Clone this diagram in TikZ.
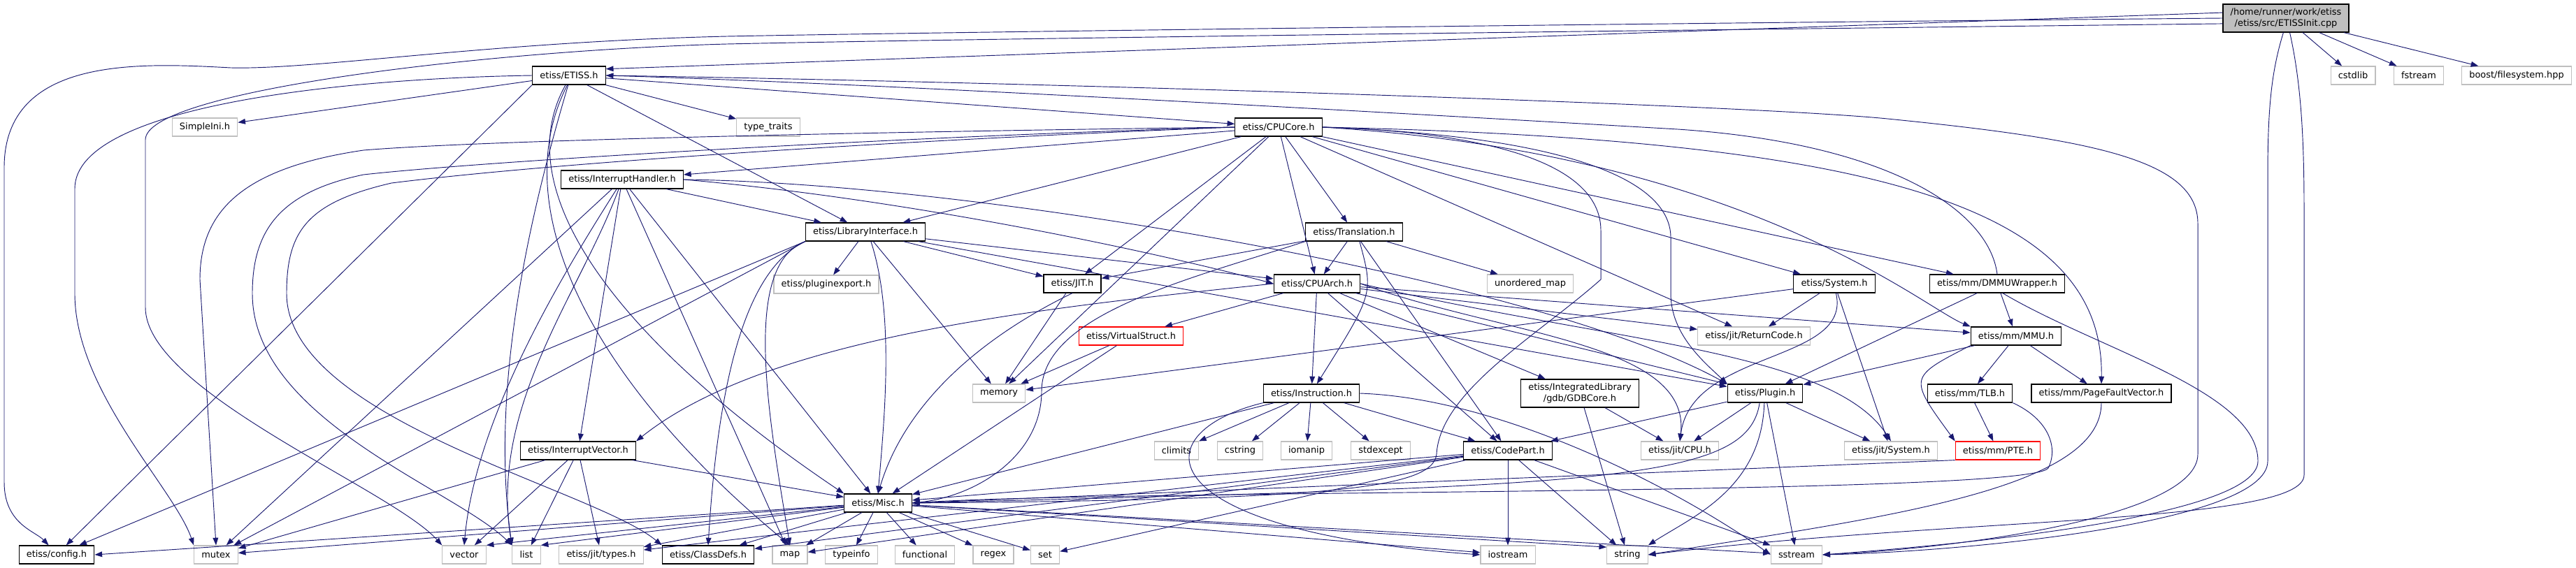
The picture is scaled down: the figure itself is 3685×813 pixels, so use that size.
\documentclass[tikz,border=0pt]{standalone}
\usepackage{fontspec}
\setmainfont{DejaVu Sans}
\usetikzlibrary{arrows.meta}

\definecolor{edgeblue}{HTML}{191970}
\definecolor{extgrey}{HTML}{BFBFBF}
\definecolor{rootgrey}{HTML}{BFBFBF}

\tikzset{
  filebox/.style={rectangle, font=\fontsize{9.7}{11.6}\selectfont, inner xsep=8pt, inner ysep=0pt,
    minimum height=19.5pt, line width=0.9pt},
  doc/.style={filebox, draw=black},
  ext/.style={filebox, draw=extgrey},
  trunc/.style={filebox, draw=red},
  twoline/.style={align=center, minimum height=30pt},
  dep/.style={->, draw=edgeblue, line width=0.7pt}
}

\begin{document}
\begin{tikzpicture}[x=0.75pt, y=-0.75pt, >={Triangle[length=8pt,width=5.8pt]},
  every edge/.style={dep}]
  \useasboundingbox (0,0) rectangle (3685,813);

  % files
  \node[doc, twoline, fill=rootgrey] (root) at (3270,26) {/home/runner/work/etiss\\/etiss/src/ETISSInit.cpp};
  \node[doc] (etiss)       at (814,108)  {etiss/ETISS.h};
  \node[ext] (cstdlib)     at (3366,108) {cstdlib};
  \node[ext] (fstream)     at (3460,108) {fstream};
  \node[ext] (boostfs)     at (3600,108) {boost/filesystem.hpp};
  \node[ext] (simpleini)   at (293,182)  {SimpleIni.h};
  \node[ext] (typetraits)  at (1099,182) {type\_traits};
  \node[doc] (cpucore)     at (1829,182) {etiss/CPUCore.h};
  \node[doc] (inthandler)  at (890,257)  {etiss/InterruptHandler.h};
  \node[doc] (libif)       at (1238,332) {etiss/LibraryInterface.h};
  \node[doc] (translation) at (1937,332) {etiss/Translation.h};
  \node[ext] (plugexp)     at (1182,407) {etiss/pluginexport.h};
  \node[doc] (jith)        at (1534,406) {etiss/JIT.h};
  \node[doc] (cpuarch)     at (1884,406) {etiss/CPUArch.h};
  \node[ext] (umap)        at (2189,406) {unordered\_map};
  \node[doc] (sysh)        at (2624,406) {etiss/System.h};
  \node[doc] (dmmu)        at (2857,406) {etiss/mm/DMMUWrapper.h};
  \node[trunc] (vstruct)   at (1618,481) {etiss/VirtualStruct.h};
  \node[ext] (retcode)     at (2509,481) {etiss/jit/ReturnCode.h};
  \node[doc] (mmu)         at (2884,481) {etiss/mm/MMU.h};
  \node[ext] (memory)      at (1429,563) {memory};
  \node[doc] (instr)       at (1876,563) {etiss/Instruction.h};
  \node[doc, twoline] (gdbcore) at (2260,563) {etiss/IntegratedLibrary\\/gdb/GDBCore.h};
  \node[doc] (plugin)      at (2525,563) {etiss/Plugin.h};
  \node[doc] (tlb)         at (2818,563) {etiss/mm/TLB.h};
  \node[doc] (pfv)         at (3006,563) {etiss/mm/PageFaultVector.h};
  \node[doc] (intvec)      at (827,645)  {etiss/InterruptVector.h};
  \node[ext] (climits)     at (1683,645) {climits};
  \node[ext] (cstring)     at (1774,645) {cstring};
  \node[ext] (iomanip)     at (1869,645) {iomanip};
  \node[ext] (stdexcept)   at (1975,645) {stdexcept};
  \node[doc] (codepart)    at (2157,645) {etiss/CodePart.h};
  \node[ext] (jitcpu)      at (2403,645) {etiss/jit/CPU.h};
  \node[ext] (jitsys)      at (2705,645) {etiss/jit/System.h};
  \node[trunc] (pte)       at (2858,645) {etiss/mm/PTE.h};
  \node[doc] (misc)        at (1256,720) {etiss/Misc.h};
  \node[doc] (config)      at (81,794)   {etiss/config.h};
  \node[ext] (mutex)       at (309,794)  {mutex};
  \node[ext] (vector)      at (664,794)  {vector};
  \node[ext] (list)        at (753,794)  {list};
  \node[ext] (types)       at (860,794)  {etiss/jit/types.h};
  \node[doc] (classdefs)   at (1013,794) {etiss/ClassDefs.h};
  \node[ext] (map)         at (1130,794) {map};
  \node[ext] (typeinfo)    at (1218,794) {typeinfo};
  \node[ext] (functional)  at (1323,794) {functional};
  \node[ext] (regex)       at (1421,794) {regex};
  \node[ext] (set)         at (1495,794) {set};
  \node[ext] (iostream)    at (2157,794) {iostream};
  \node[ext] (string)      at (2328,794) {string};
  \node[ext] (sstream)     at (2570,794) {sstream};

  % direct includes
  \path
    (root.175) edge (etiss.10)
    (root) edge (cstdlib)
    (root) edge (fstream)
    (root) edge (boostfs)
    (etiss) edge (simpleini)
    (etiss) edge (typetraits)
    (etiss) edge (cpucore)
    (etiss) edge (libif)
    (etiss.south west) edge (config)
    (cpucore) edge (inthandler)
    (cpucore) edge (libif)
    (cpucore) edge (jith)
    (cpucore) edge (cpuarch)
    (cpucore) edge (translation)
    (cpucore) edge (sysh)
    (cpucore) edge (dmmu)
    (cpucore) edge (retcode)
    (cpucore) edge (memory)
    (inthandler) edge (libif)
    (inthandler) edge (intvec)
    (inthandler) edge (mutex)
    (inthandler) edge (misc)
    (inthandler) edge (map)
    (libif.south west) edge (config)
    (libif.south west) edge (mutex)
    (libif) edge (plugexp)
    (libif) edge (memory)
    (libif) edge (jith)
    (libif) edge (cpuarch)
    (libif) edge (plugin)
    (translation) edge (jith)
    (translation) edge (cpuarch)
    (translation) edge (codepart)
    (translation) edge (umap)
    (jith) edge (memory)
    (cpuarch) edge (vstruct)
    (cpuarch) edge (instr)
    (cpuarch) edge (codepart)
    (cpuarch) edge (gdbcore)
    (cpuarch) edge (plugin)
    (cpuarch) edge (retcode)
    (cpuarch) edge (mmu)
    (sysh) edge (retcode)
    (sysh) edge (jitsys)
    (sysh) edge (memory)
    (dmmu) edge (plugin)
    (dmmu) edge (mmu)
    (vstruct) edge (memory)
    (vstruct) edge (misc)
    (mmu) edge (plugin)
    (mmu) edge (tlb)
    (mmu) edge (pfv)
    (instr) edge (climits)
    (instr) edge (cstring)
    (instr) edge (iomanip)
    (instr) edge (stdexcept)
    (instr) edge (codepart)
    (instr) edge (misc)
    (gdbcore) edge (jitcpu)
    (gdbcore) edge (string)
    (plugin) edge (jitcpu)
    (plugin) edge (jitsys)
    (plugin) edge (codepart)
    (plugin) edge (sstream)
    (tlb) edge (pte)
    (pte.south west) edge (misc.east)
    (intvec) edge (mutex)
    (intvec) edge (vector)
    (intvec) edge (list)
    (intvec) edge (types)
    (intvec) edge (misc)
    (codepart) edge (misc)
    (codepart) edge (types)
    (codepart) edge (classdefs)
    (codepart) edge (map)
    (codepart) edge (set)
    (codepart) edge (iostream)
    (codepart) edge (string)
    (codepart) edge (sstream)
    (misc) edge (config.east)
    (misc) edge (mutex)
    (misc) edge (vector.north east)
    (misc) edge (list.north east)
    (misc) edge (types)
    (misc) edge (classdefs)
    (misc) edge (map)
    (misc) edge (typeinfo)
    (misc) edge (functional)
    (misc) edge (regex)
    (misc) edge (set)
    (misc) edge (iostream)
    (misc) edge (string.160)
    (misc) edge (sstream);

  % routed includes
  \draw[dep] (root.180) .. controls (2500,32) and (1400,45) .. (1040,52)
    .. controls (700,60) and (450,100) .. (330,97) .. controls (200,90) and (6,80) .. (6,240)
    -- (6,690) .. controls (6,750) and (50,760) .. (config.130);
  \draw[dep] (root.185) .. controls (2500,42) and (1400,55) .. (1040,63)
    .. controls (700,72) and (208,130) .. (208,200) -- (208,440)
    .. controls (208,560) and (560,700) .. (vector.north west);
  \draw[dep] (root.-100) .. controls (3250,100) and (3244,150) .. (3244,250) -- (3244,660)
    .. controls (3244,750) and (2800,790) .. (sstream.east);
  \draw[dep] (root.-75) .. controls (3292,120) and (3296,200) .. (3296,300) -- (3296,680)
    .. controls (3296,750) and (2800,740) .. (string.east);
  \draw[dep] (etiss.west) .. controls (500,112) and (107,150) .. (107,270) -- (107,420)
    .. controls (107,560) and (250,700) .. (mutex.north west);
  \draw[dep] (etiss.-110) .. controls (720,280) and (900,500) .. (misc.north west);
  \draw[dep] (etiss.-100) .. controls (720,300) and (850,550) .. (map.north);
  \draw[dep] (etiss.-95) .. controls (760,300) and (700,550) .. (list.north west);
  \draw[dep] (etiss.east) .. controls (1500,118) and (2500,150) .. (2700,170)
    .. controls (3000,200) and (3144,230) .. (3144,320) -- (3144,650)
    .. controls (3144,740) and (2800,785) .. (sstream.east);
  \draw[dep] (dmmu.north) .. controls (2845,300) and (2700,205) .. (2400,185)
    .. controls (1800,150) and (1200,118) .. (etiss.east);
  \draw[dep] (cpucore.west) .. controls (1300,188) and (700,200) .. (520,215)
    .. controls (350,240) and (286,300) .. (286,400) -- (mutex.north);
  \draw[dep] (cpucore.west) .. controls (1300,195) and (700,230) .. (520,250)
    .. controls (400,275) and (361,330) .. (361,420) .. controls (361,600) and (650,700) .. (list.north west);
  \draw[dep] (cpucore.west) .. controls (1300,200) and (800,232) .. (560,262)
    .. controls (440,290) and (410,330) .. (410,420) .. controls (410,600) and (850,700) .. (classdefs.north west);
  \draw[dep] (cpucore.east) .. controls (2150,190) and (2290,240) .. (2290,330) -- (2290,400)
    .. controls (2200,480) and (2060,560) .. (2055,650) .. controls (2050,700) and (1900,715) .. (misc.east);
  \draw[dep] (cpucore.east) .. controls (2250,195) and (2390,260) .. (2390,340) -- (2390,420)
    .. controls (2390,480) and (2440,520) .. (plugin.north west);
  \draw[dep] (cpucore.east) .. controls (2500,220) and (2750,440) .. (mmu.north west);
  \draw[dep] (cpucore.east) .. controls (2700,200) and (3010,300) .. (pfv.north);
  \draw[dep] (inthandler.east) .. controls (1300,285) and (1650,360) .. (cpuarch.west);
  \draw[dep] (inthandler.east) .. controls (1400,262) and (2200,400) .. (plugin.north west);
  \draw[dep] (inthandler.-120) .. controls (800,400) and (680,600) .. (vector.north);
  \draw[dep] (inthandler.-110) .. controls (830,420) and (700,580) .. (list.north west);
  \draw[dep] (libif.south west) .. controls (1080,380) and (1030,500) .. (classdefs.north);
  \draw[dep] (libif.south west) .. controls (1060,380) and (1100,600) .. (map.north);
  \draw[dep] (libif.-60) .. controls (1280,450) and (1265,600) .. (misc.north);
  \draw[dep] (translation.-60) .. controls (1965,420) .. (instr.60);
  \draw[dep] (translation.south west) .. controls (1700,400) and (1490,450) .. (1490,560)
    .. controls (1490,650) and (1400,710) .. (misc.east);
  \draw[dep] (jith.south) .. controls (1430,470) and (1300,560) .. (misc.north);
  \draw[dep] (cpuarch.west) .. controls (1500,440) and (1100,480) .. (intvec.north east);
  \draw[dep] (cpuarch.east) .. controls (2150,480) and (2420,490) .. (jitcpu.north);
  \draw[dep] (cpuarch.east) .. controls (2300,490) and (2620,500) .. (jitsys.north);
  \draw[dep] (sysh.-80) .. controls (2650,520) and (2420,500) .. (jitcpu.north);
  \draw[dep] (dmmu.-60) .. controls (3000,500) and (3230,560) .. (3230,660)
    .. controls (3230,740) and (2800,780) .. (sstream.east);
  \draw[dep] (mmu.south west) .. controls (2730,540) .. (pte.north west);
  \draw[dep] (tlb.south east) .. controls (2930,600) and (2945,640) .. (2930,670)
    .. controls (2900,710) and (1600,700) .. (misc.east);
  \draw[dep] (pfv.south) .. controls (3006,700) and (2700,740) .. (string.east);
  \draw[dep] (instr.east) .. controls (2150,570) and (2400,700) .. (sstream.west);
  \draw[dep] (instr.south west) .. controls (1630,620) and (1640,760) .. (iostream.west);
  \draw[dep] (plugin.-95) .. controls (2520,700) and (2420,740) .. (string.north east);
  \draw[dep] (plugin.-120) .. controls (2500,690) and (2300,695) .. (misc.east);
\end{tikzpicture}
\end{document}
